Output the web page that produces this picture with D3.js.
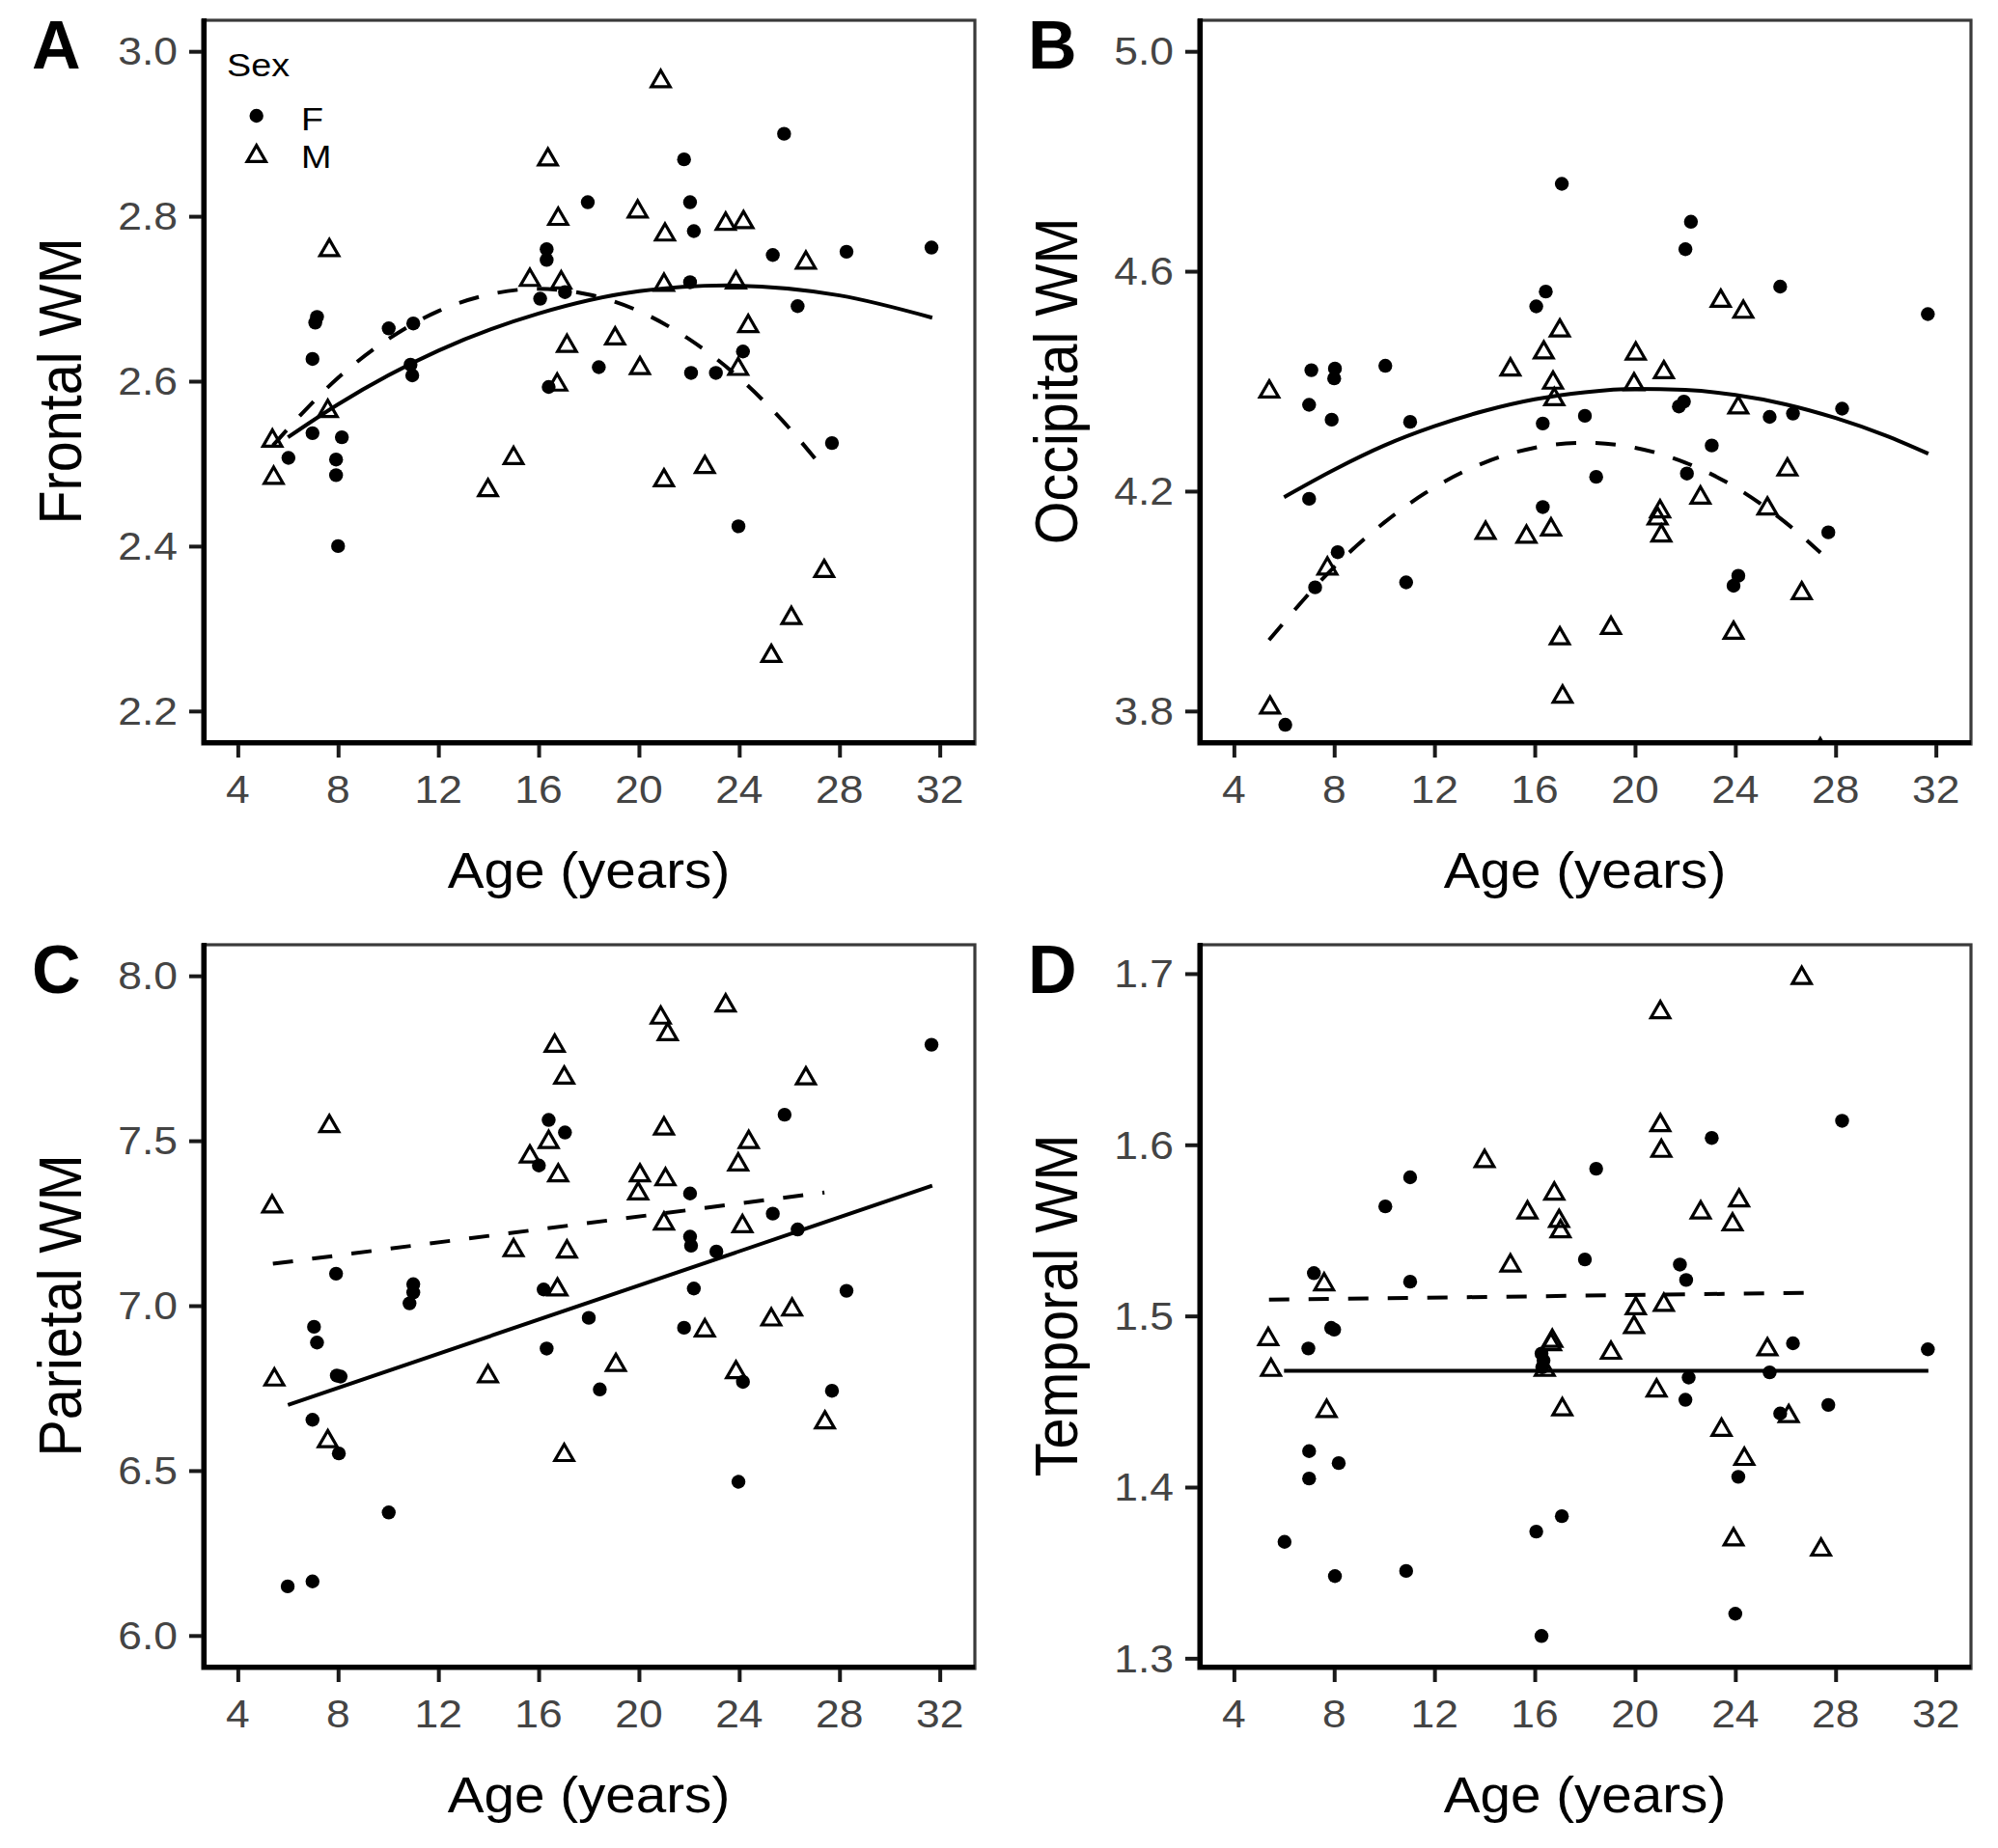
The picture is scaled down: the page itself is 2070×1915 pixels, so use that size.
<!DOCTYPE html>
<html><head><meta charset="utf-8">
<script src="https://cdn.jsdelivr.net/npm/d3@7"></script>
<style>body{margin:0;background:#fff} svg{display:block}</style>
</head><body><svg id="c" width="2070" height="1915"></svg>
<script>
// ---------------- data (age in years, white-matter value) ----------------
const xTicks = [4, 8, 12, 16, 20, 24, 28, 32];
const yTicksFrontal = [2.2, 2.4, 2.6, 2.8, 3.0];
const yTicksOccipital = [3.8, 4.2, 4.6, 5.0];
const yTicksParietal = [6.0, 6.5, 7.0, 7.5, 8.0];
const yTicksTemporal = [1.3, 1.4, 1.5, 1.6, 1.7];
const sexLevels = ["F", "M"];

const frontalF = [[6.02,2.507],[6.98,2.627],[6.98,2.537],[7.09,2.671],[7.16,2.678],[7.92,2.505],[7.92,2.486],[8.0,2.40],[8.15,2.532],[10.02,2.664],[10.89,2.620],[10.96,2.607],[11.0,2.670],[16.06,2.700],[16.32,2.760],[16.32,2.747],[16.4,2.593],[17.05,2.708],[17.96,2.817],[18.4,2.617],[21.8,2.869],[22.04,2.817],[22.04,2.720],[22.08,2.610],[22.19,2.782],[23.07,2.610],[23.97,2.424],[24.15,2.636],[25.34,2.753],[25.79,2.900],[26.33,2.691],[27.7,2.525],[28.28,2.757],[31.67,2.762]];
const frontalM = [[5.38,2.531],[5.43,2.486],[7.59,2.567],[7.65,2.762],[13.98,2.471],[15.0,2.510],[15.65,2.726],[16.37,2.872],[16.74,2.599],[16.78,2.800],[16.9,2.723],[17.13,2.646],[19.05,2.655],[19.95,2.809],[20.04,2.619],[20.87,2.967],[21.0,2.720],[21.0,2.483],[21.04,2.781],[22.63,2.499],[23.46,2.794],[23.87,2.723],[23.96,2.618],[24.17,2.796],[24.36,2.670],[25.28,2.270],[26.08,2.316],[26.66,2.747],[27.39,2.373]];

const occipitalF = [[6.05,3.775],[7.0,4.357],[7.0,4.186],[7.09,4.420],[7.24,4.025],[7.9,4.330],[8.0,4.405],[8.03,4.423],[8.14,4.089],[10.04,4.428],[10.87,4.034],[11.03,4.326],[16.06,4.536],[16.32,4.323],[16.32,4.171],[16.44,4.563],[17.08,4.759],[18.0,4.337],[18.45,4.226],[21.75,4.354],[21.95,4.363],[22.01,4.640],[22.07,4.232],[22.23,4.690],[23.06,4.283],[23.93,4.028],[24.12,4.046],[25.37,4.335],[25.79,4.572],[26.3,4.341],[27.71,4.125],[28.26,4.350],[31.68,4.522]];
const occipitalM = [[5.41,4.386],[5.44,3.811],[7.73,4.064],[14.04,4.129],[15.03,4.426],[15.67,4.122],[16.36,4.457],[16.65,4.135],[16.73,4.402],[16.78,4.372],[17.0,4.497],[17.0,3.937],[17.11,3.831],[19.04,3.956],[19.96,4.399],[20.03,4.455],[20.9,4.155],[21.0,4.168],[21.05,4.124],[21.15,4.421],[22.61,4.193],[23.42,4.551],[23.93,3.947],[24.12,4.357],[24.32,4.531],[25.28,4.173],[26.08,4.244],[26.65,4.019],[27.39,3.735]];

const parietalF = [[5.99,6.149],[6.98,6.164],[6.98,6.654],[7.04,6.936],[7.16,6.888],[7.92,7.097],[7.95,6.788],[8.1,6.785],[8.03,6.552],[10.02,6.373],[10.85,7.007],[11.0,7.040],[11.0,7.065],[16.01,7.425],[16.2,7.049],[16.32,6.870],[16.4,7.563],[17.05,7.525],[18.0,6.963],[18.44,6.746],[21.8,6.933],[22.04,7.340],[22.04,7.209],[22.08,7.182],[22.19,7.052],[23.09,7.164],[23.97,6.466],[24.15,6.769],[25.34,7.279],[25.81,7.579],[26.33,7.231],[27.7,6.742],[28.28,7.045],[31.67,7.791]];
const parietalM = [[5.37,7.309],[5.46,6.784],[7.59,6.597],[7.65,7.552],[13.98,6.794],[15.0,7.176],[15.65,7.460],[16.4,7.504],[16.64,7.796],[16.75,7.057],[16.78,7.403],[17.02,7.699],[17.02,6.555],[17.13,7.172],[19.08,6.828],[19.97,7.348],[20.04,7.403],[20.87,7.881],[21.0,7.545],[21.0,7.257],[21.06,7.391],[21.15,7.831],[22.63,6.933],[23.46,7.918],[23.87,6.806],[23.96,7.436],[24.13,7.249],[24.38,7.504],[25.28,6.966],[26.11,6.996],[26.66,7.697],[27.42,6.654]];

const temporalF = [[6.02,1.368],[6.97,1.481],[7.0,1.421],[7.0,1.405],[7.19,1.525],[7.88,1.493],[8.0,1.492],[8.03,1.348],[8.18,1.414],[10.04,1.564],[10.87,1.351],[11.03,1.581],[11.03,1.520],[16.06,1.374],[16.27,1.478],[16.3,1.470],[16.35,1.474],[16.27,1.313],[17.08,1.383],[18.0,1.533],[18.45,1.586],[21.79,1.530],[22.01,1.451],[22.04,1.521],[22.14,1.464],[23.06,1.604],[24.0,1.326],[24.12,1.406],[25.37,1.467],[25.79,1.443],[26.3,1.484],[27.71,1.448],[28.26,1.614],[31.68,1.4805]];
const temporalM = [[5.37,1.488],[5.48,1.470],[7.6,1.520],[7.7,1.446],[14.0,1.592],[15.03,1.531],[15.71,1.562],[16.4,1.470],[16.65,1.485],[16.7,1.487],[16.78,1.573],[16.97,1.557],[17.03,1.551],[17.1,1.447],[19.04,1.480],[19.96,1.495],[20.03,1.506],[20.86,1.458],[21.01,1.679],[21.01,1.613],[21.05,1.598],[21.15,1.508],[22.62,1.562],[23.45,1.435],[23.89,1.555],[23.93,1.371],[24.15,1.569],[24.36,1.418],[25.28,1.482],[26.13,1.443],[26.65,1.699],[27.42,1.365]];

// fitted curves (solid = F, dashed = M)
const fitFrontalF = [[6.0,2.532],[8,2.572],[12,2.637],[16,2.682],[20,2.709],[23.5,2.716],[28,2.704],[31.7,2.677]];
const fitFrontalM = [[5.4,2.522],[8,2.604],[10,2.651],[12,2.685],[14,2.705],[16,2.712],[18,2.705],[20,2.685],[22,2.651],[24,2.604],[26,2.543],[27.4,2.492]];
const fitOccipitalF = [[6,4.189],[8,4.239],[10,4.283],[12,4.318],[14,4.346],[16,4.367],[18,4.380],[20,4.386],[22,4.384],[24,4.375],[26,4.358],[28,4.333],[30,4.301],[31.7,4.268]];
const fitOccipitalM = [[5.4,3.929],[8,4.062],[10,4.143],[12,4.207],[14,4.252],[16,4.279],[18,4.288],[20,4.279],[22,4.252],[24,4.207],[26,4.143],[27.4,4.088]];
const fitParietalF = [[6.0,6.699],[31.7,7.364]];
const fitParietalM = [[5.4,7.127],[27.4,7.343]];
const fitTemporalF = [[6.0,1.468],[31.7,1.468]];
const fitTemporalM = [[5.4,1.5095],[27.4,1.5136]];

// ---------------- drawing ----------------
const W = 2070, H = 1915;
const svg = d3.select("#c");
svg.append("rect").attr("width", W).attr("height", H).attr("fill", "#fff");

const FONT = "'Liberation Sans', Arial, Helvetica, sans-serif";
const TS = 1.11; // horizontal stretch of the reference text

function label(parent, x, y, txt, o) {
  const g = parent.append("g")
    .attr("transform", `translate(${x},${y}) scale(${o.ts ?? TS},1)` + (o.rot ? ` rotate(${o.rot})` : ""));
  g.append("text")
    .attr("text-anchor", o.anchor || "start")
    .attr("font-family", FONT)
    .attr("font-size", o.size)
    .attr("font-weight", o.weight || "normal")
    .attr("fill", o.fill || "#000")
    .text(txt);
  return g;
}

const PW = 800, PH = 752;
const panels = [
  {tag: "A", title: "Frontal WM",   F: frontalF,   M: frontalM,   fitF: fitFrontalF,   fitM: fitFrontalM,   yDomain: [2.16, 3.04],   yTicks: yTicksFrontal,   left: 210,  top: 19,  legend: true},
  {tag: "B", title: "Occipital WM", F: occipitalF, M: occipitalM, fitF: fitOccipitalF, fitM: fitOccipitalM, yDomain: [3.74, 5.06],   yTicks: yTicksOccipital, left: 1242, top: 19},
  {tag: "C", title: "Parietal WM",  F: parietalF,  M: parietalM,  fitF: fitParietalF,  fitM: fitParietalM,  yDomain: [5.9, 8.1],     yTicks: yTicksParietal,  left: 210,  top: 977},
  {tag: "D", title: "Temporal WM",  F: temporalF,  M: temporalM,  fitF: fitTemporalF,  fitM: fitTemporalM,  yDomain: [1.294, 1.718], yTicks: yTicksTemporal,  left: 1242, top: 977}
];

const triH = 16.8, triW = 19.4;
const triPath = `M0,${-triH/2}L${triW/2},${triH/2}L${-triW/2},${triH/2}Z`;
const fmt = d3.format(".1f");
const R = 7.2;

panels.forEach((p, i) => {
  const x = d3.scaleLinear().domain([2.6, 33.4]).range([p.left, p.left + PW]);
  const y = d3.scaleLinear().domain(p.yDomain).range([p.top + PH, p.top]);
  const g = svg.append("g");
  const bottom = p.top + PH, right = p.left + PW;

  const clipId = "clip" + i;
  svg.append("clipPath").attr("id", clipId)
    .append("rect").attr("x", p.left).attr("y", p.top).attr("width", PW).attr("height", PH);
  const plot = g.append("g").attr("clip-path", `url(#${clipId})`);

  // points
  plot.append("g").selectAll("circle").data(p.F).join("circle")
    .attr("cx", d => x(d[0])).attr("cy", d => y(d[1])).attr("r", R).attr("fill", "#000");
  plot.append("g").selectAll("path").data(p.M).join("path")
    .attr("transform", d => `translate(${x(d[0])},${y(d[1])})`)
    .attr("d", triPath).attr("fill", "none").attr("stroke", "#000")
    .attr("stroke-width", 3.2).attr("stroke-linejoin", "miter");

  // fit lines
  const line = d3.line().x(d => x(d[0])).y(d => y(d[1])).curve(d3.curveMonotoneX);
  plot.append("path").datum(p.fitF).attr("d", line)
    .attr("fill", "none").attr("stroke", "#000").attr("stroke-width", 4);
  plot.append("path").datum(p.fitM).attr("d", line)
    .attr("fill", "none").attr("stroke", "#000").attr("stroke-width", 4)
    .attr("stroke-dasharray", "21 20");

  // panel border
  g.append("rect").attr("x", p.left).attr("y", p.top + 2).attr("width", PW).attr("height", PH - 2)
    .attr("fill", "none").attr("stroke", "#3a3a3a").attr("stroke-width", 3.2);

  // axes (tick marks from d3 axes, labels drawn separately)
  const ax = g.append("g").attr("transform", `translate(0,${bottom})`)
    .call(d3.axisBottom(x).tickValues(xTicks).tickSize(14).tickSizeOuter(0).tickFormat(""));
  const ay = g.append("g").attr("transform", `translate(${p.left},0)`)
    .call(d3.axisLeft(y).tickValues(p.yTicks).tickSize(14).tickSizeOuter(0).tickFormat(""));
  [ax, ay].forEach(a => {
    a.select(".domain").remove();
    a.selectAll(".tick line").attr("stroke", "#1a1a1a").attr("stroke-width", 4);
  });
  g.append("line").attr("x1", p.left + 1.5).attr("x2", p.left + 1.5).attr("y1", p.top).attr("y2", bottom)
    .attr("stroke", "#000").attr("stroke-width", 5.2);
  g.append("line").attr("x1", p.left - 1).attr("x2", right).attr("y1", bottom - 1.5).attr("y2", bottom - 1.5)
    .attr("stroke", "#000").attr("stroke-width", 5.2);

  // tick labels
  xTicks.forEach(t => label(g, x(t), bottom + 61, String(t), {size: 40, anchor: "middle", fill: "#444"}));
  p.yTicks.forEach(t => label(g, p.left - 26, y(t) + 14.3, fmt(t), {size: 40, anchor: "end", fill: "#444"}));

  // axis titles
  label(g, p.left + PW / 2, bottom + 149, "Age (years)", {size: 51, anchor: "middle"});
  label(g, p.left - 126.5, p.top + PH / 2, p.title, {size: 57.5, anchor: "middle", rot: -90});

  // panel tag
  label(g, p.left - 177, p.top + (i < 2 ? 52.4 : 52), p.tag, {size: 70, weight: "bold", ts: 1.0});

  // legend
  if (p.legend) {
    label(g, p.left + 25, 78.5, "Sex", {size: 34});
    g.append("circle").attr("cx", p.left + 55.7).attr("cy", 120).attr("r", R).attr("fill", "#000");
    g.append("path").attr("transform", `translate(${p.left + 55.7},159)`).attr("d", triPath)
      .attr("fill", "none").attr("stroke", "#000").attr("stroke-width", 3.2);
    label(g, p.left + 102, 135, sexLevels[0], {size: 34});
    label(g, p.left + 102, 173.5, sexLevels[1], {size: 34});
  }
});
</script></body></html>
